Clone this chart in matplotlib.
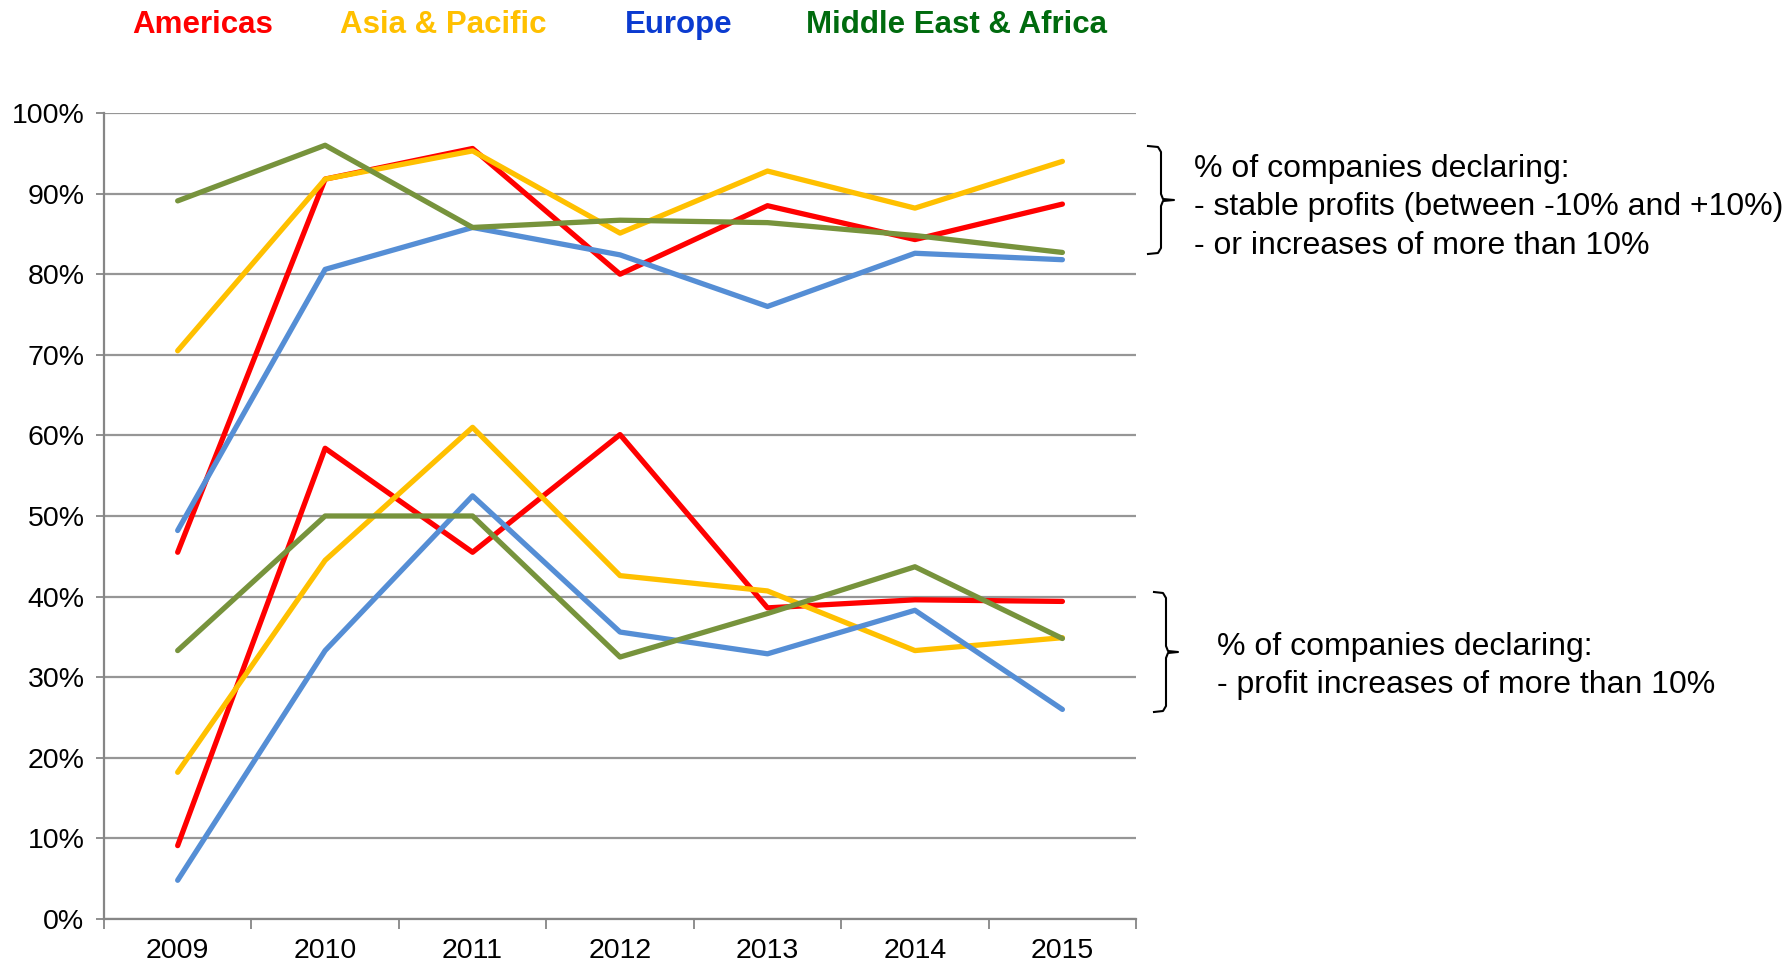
import matplotlib
matplotlib.use("Agg")
import matplotlib.pyplot as plt
from matplotlib.lines import Line2D
from matplotlib.ticker import FixedLocator, PercentFormatter

plt.rcParams["font.family"] = ["Liberation Sans", "DejaVu Sans"]

years = ["2009", "2010", "2011", "2012", "2013", "2014", "2015"]
regions = ["Americas", "Asia & Pacific", "Europe", "Middle East & Africa"]

# stable profits or increases > 10%
stable_americas = [45.5, 91.8, 95.6, 80.0, 88.5, 84.3, 88.7]
stable_asia = [70.5, 91.8, 95.3, 85.1, 92.8, 88.2, 94.0]
stable_europe = [48.2, 80.6, 85.8, 82.4, 76.0, 82.6, 81.8]
stable_mea = [89.1, 96.0, 85.8, 86.7, 86.4, 84.8, 82.7]

# profit increases > 10%
incr_americas = [9.1, 58.4, 45.5, 60.1, 38.6, 39.6, 39.4]
incr_asia = [18.2, 44.5, 61.0, 42.6, 40.7, 33.3, 34.9]
incr_europe = [4.8, 33.3, 52.5, 35.6, 32.9, 38.3, 26.0]
incr_mea = [33.3, 50.0, 50.0, 32.5, 37.9, 43.7, 34.8]

line_colors = ["#FF0000", "#FFC000", "#558ED5", "#77933C"]
text_colors = ["#FF0000", "#FFC000", "#0B3BD0", "#006B0E"]

stable = [stable_americas, stable_asia, stable_europe, stable_mea]
incr = [incr_americas, incr_asia, incr_europe, incr_mea]

fig = plt.figure(figsize=(17.92, 9.66), dpi=100)
ax = fig.add_axes([0.058, 0.0487, 0.576, 0.8343])

x = range(len(years))
for vals, c in zip(stable, line_colors):
    ax.plot(x, vals, color=c, lw=3.8, solid_capstyle="round", zorder=3)
for vals, c in zip(incr, line_colors):
    ax.plot(x, vals, color=c, lw=3.8, solid_capstyle="round", zorder=3)

ax.set_xlim(-0.5, len(years) - 0.5)
ax.set_ylim(0, 100)
ax.set_yticks(range(0, 101, 10))
ax.yaxis.set_major_formatter(PercentFormatter(decimals=0))
ax.set_xticks(list(x))
ax.set_xticklabels(years)
ax.xaxis.set_minor_locator(FixedLocator([i - 0.5 for i in range(len(years) + 1)]))
ax.tick_params(axis="x", which="major", length=0, pad=14, labelsize=20.5)
ax.tick_params(axis="x", which="minor", length=7, width=1.3, color="#868686")
ax.tick_params(axis="y", length=6, width=1.3, color="#868686", pad=8, labelsize=20.5)
ax.yaxis.grid(True, color="#969696", lw=1.6)
ax.set_axisbelow(True)
for s in ["top", "right"]:
    ax.spines[s].set_visible(False)
for s in ["left", "bottom"]:
    ax.spines[s].set_color("#868686")
    ax.spines[s].set_linewidth(1.6)

# legend as coloured titles
legend_x = [177, 388, 594, 837]
for name, c, xp in zip(regions, text_colors, legend_x):
    fig.text(xp * 1.1429 / 1792, 0.974, name, color=c, fontsize=22.5,
             fontweight="bold", ha="center", va="center")


def brace(x0, x1, top, bottom):
    # curly bracket in figure pixels, tip pointing right
    W, H = 1792.0, 966.0
    mid = (top + bottom) / 2
    xm = (x0 + x1) / 2
    xs = [x0, xm - 3, xm, xm, xm + 2, x1, xm + 2, xm, xm, xm - 3, x0]
    ys = [top, top + 1, top + 6, mid - 6, mid - 1, mid, mid + 1, mid + 6,
          bottom - 6, bottom - 1, bottom]
    fig.add_artist(Line2D([v / W for v in xs], [1 - v / H for v in ys],
                          color="black", lw=1.5, transform=fig.transFigure))


brace(1148, 1174, 146, 254)
brace(1154, 1178, 592, 712)

fig.text(1194 / 1792, 1 - 154 / 966,
         "% of companies declaring:\n- stable profits (between -10% and +10%)\n- or increases of more than 10%",
         fontsize=23, va="top", ha="left", linespacing=1.36)
fig.text(1217 / 1792, 1 - 632 / 966,
         "% of companies declaring:\n- profit increases of more than 10%",
         fontsize=23, va="top", ha="left", linespacing=1.36)

fig.savefig("out.png", dpi=100)
